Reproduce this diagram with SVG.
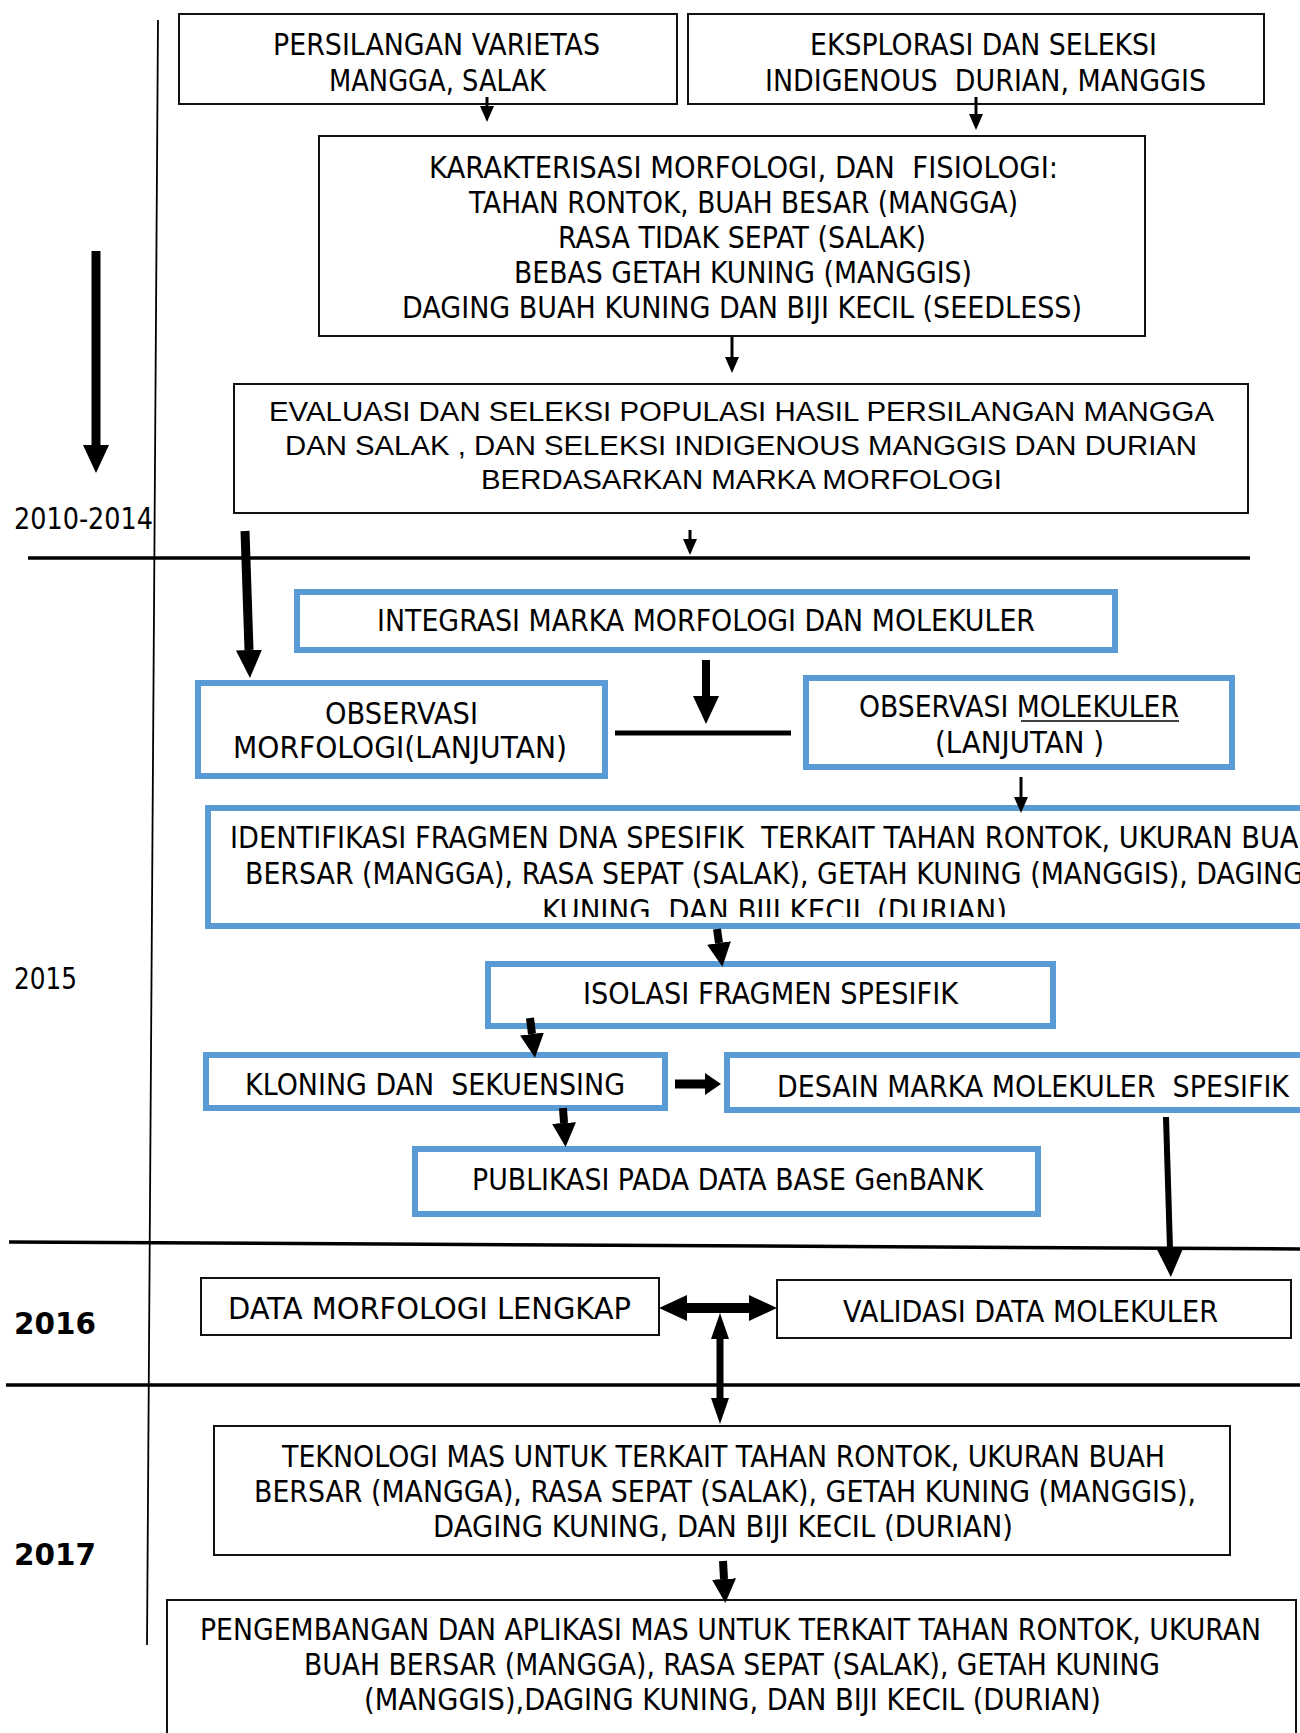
<svg xmlns="http://www.w3.org/2000/svg" width="1300" height="1733" viewBox="0 0 1300 1733">
<style>
.bk{fill:#fff;stroke:#111;stroke-width:2}
.bl{fill:#fff;stroke:#5B9BD5;stroke-width:6}
text{font-family:"DejaVu Sans","Liberation Sans",sans-serif;font-size:30px;fill:#000}
.ar{font-family:"Liberation Sans",Arial,sans-serif;font-size:27px}
.yb{font-size:31px;font-weight:bold}
.ln{stroke:#000;fill:none}
.c{stroke:#000;fill:none}
</style>
<defs>
<marker id="hs" markerUnits="userSpaceOnUse" viewBox="0 -8 16 16" markerWidth="16" markerHeight="16" refX="0" refY="0" orient="auto-start-reverse"><path d="M0,-7 L16,0 L0,7z" fill="#000"/></marker>
<marker id="hm" markerUnits="userSpaceOnUse" viewBox="0 -12 24 24" markerWidth="24" markerHeight="24" refX="0" refY="0" orient="auto-start-reverse"><path d="M0,-12 L24,0 L0,12z" fill="#000"/></marker>
<marker id="hl" markerUnits="userSpaceOnUse" viewBox="0 -13 28 26" markerWidth="28" markerHeight="26" refX="0" refY="0" orient="auto-start-reverse"><path d="M0,-13 L28,0 L0,13z" fill="#000"/></marker>
<marker id="hw" markerUnits="userSpaceOnUse" viewBox="0 -11 16 22" markerWidth="16" markerHeight="22" refX="0" refY="0" orient="auto-start-reverse"><path d="M0,-11 L16,0 L0,11z" fill="#000"/></marker>
<marker id="hn" markerUnits="userSpaceOnUse" viewBox="0 -9 26 18" markerWidth="26" markerHeight="18" refX="0" refY="0" orient="auto-start-reverse"><path d="M0,-9 L26,0 L0,9z" fill="#000"/></marker>
<clipPath id="cid"><rect x="0" y="800" width="1300" height="117"/></clipPath>
</defs>

<g id="timeline">
<line class="ln" x1="158" y1="20" x2="147" y2="1645" stroke-width="1.8"/>
<line class="ln" x1="28" y1="558" x2="1250" y2="558" stroke-width="3.5"/>
<line class="ln" x1="9" y1="1242" x2="1300" y2="1249" stroke-width="3.5"/>
<line class="ln" x1="6" y1="1385" x2="1300" y2="1385" stroke-width="3.5"/>
<text x="14" y="529" textLength="139" lengthAdjust="spacingAndGlyphs">2010-2014</text>
<text x="14" y="989" textLength="63" lengthAdjust="spacingAndGlyphs">2015</text>
<text class="yb" x="14" y="1334" textLength="82" lengthAdjust="spacingAndGlyphs">2016</text>
<text class="yb" x="14" y="1565" textLength="82" lengthAdjust="spacingAndGlyphs">2017</text>
</g>

<g id="n-persilangan">
<rect class="bk" x="179" y="14" width="498" height="90"/>
<text x="273" y="55" textLength="327" lengthAdjust="spacingAndGlyphs">PERSILANGAN VARIETAS</text>
<text x="329" y="91" textLength="217" lengthAdjust="spacingAndGlyphs">MANGGA, SALAK</text>
</g>

<g id="n-eksplorasi">
<rect class="bk" x="688" y="14" width="576" height="90"/>
<text x="810" y="55" textLength="347" lengthAdjust="spacingAndGlyphs">EKSPLORASI DAN SELEKSI</text>
<text x="765" y="91" textLength="441" lengthAdjust="spacingAndGlyphs" xml:space="preserve">INDIGENOUS  DURIAN, MANGGIS</text>
</g>

<g id="n-karakterisasi">
<rect class="bk" x="319" y="136" width="826" height="200"/>
<text x="429" y="178" textLength="629" lengthAdjust="spacingAndGlyphs" xml:space="preserve">KARAKTERISASI MORFOLOGI, DAN  FISIOLOGI:</text>
<text x="469" y="213" textLength="549" lengthAdjust="spacingAndGlyphs">TAHAN RONTOK, BUAH BESAR (MANGGA)</text>
<text x="558" y="248" textLength="368" lengthAdjust="spacingAndGlyphs">RASA TIDAK SEPAT (SALAK)</text>
<text x="514" y="283" textLength="458" lengthAdjust="spacingAndGlyphs">BEBAS GETAH KUNING (MANGGIS)</text>
<text x="402" y="318" textLength="680" lengthAdjust="spacingAndGlyphs">DAGING BUAH KUNING DAN BIJI KECIL (SEEDLESS)</text>
</g>

<g id="n-evaluasi">
<rect class="bk" x="234" y="384" width="1014" height="129"/>
<text class="ar" x="269" y="421" textLength="945" lengthAdjust="spacingAndGlyphs">EVALUASI DAN SELEKSI POPULASI HASIL PERSILANGAN MANGGA</text>
<text class="ar" x="285" y="455" textLength="912" lengthAdjust="spacingAndGlyphs">DAN SALAK , DAN SELEKSI INDIGENOUS MANGGIS DAN DURIAN</text>
<text class="ar" x="481" y="489" textLength="521" lengthAdjust="spacingAndGlyphs">BERDASARKAN MARKA MORFOLOGI</text>
</g>

<g id="n-integrasi">
<rect class="bl" x="297" y="592" width="818" height="58"/>
<text x="377" y="631" textLength="658" lengthAdjust="spacingAndGlyphs">INTEGRASI MARKA MORFOLOGI DAN MOLEKULER</text>
</g>

<g id="n-obs-morfologi">
<rect class="bl" x="198" y="683" width="407" height="93"/>
<text x="325" y="724" textLength="153" lengthAdjust="spacingAndGlyphs">OBSERVASI</text>
<text x="233" y="758" textLength="334" lengthAdjust="spacingAndGlyphs">MORFOLOGI(LANJUTAN)</text>
</g>

<g id="n-obs-molekuler">
<rect class="bl" x="806" y="678" width="426" height="89"/>
<text x="859" y="717" textLength="320" lengthAdjust="spacingAndGlyphs">OBSERVASI MOLEKULER</text>
<line x1="1021" y1="721" x2="1179" y2="721" stroke="#000" stroke-width="1.6"/>
<text x="935" y="753" textLength="169" lengthAdjust="spacingAndGlyphs" xml:space="preserve">(LANJUTAN )</text>
</g>

<g id="n-identifikasi">
<rect class="bl" x="208" y="808" width="1113" height="118"/>
<g clip-path="url(#cid)">
<text x="230" y="848" textLength="1089" lengthAdjust="spacingAndGlyphs" xml:space="preserve">IDENTIFIKASI FRAGMEN DNA SPESIFIK  TERKAIT TAHAN RONTOK, UKURAN BUAH</text>
<text x="245" y="884" textLength="1059" lengthAdjust="spacingAndGlyphs">BERSAR (MANGGA), RASA SEPAT (SALAK), GETAH KUNING (MANGGIS), DAGING</text>
<text x="542" y="921" textLength="465" lengthAdjust="spacingAndGlyphs">KUNING, DAN BIJI KECIL (DURIAN)</text>
</g>
</g>

<g id="n-isolasi">
<rect class="bl" x="488" y="964" width="565" height="62"/>
<text x="583" y="1004" textLength="375" lengthAdjust="spacingAndGlyphs">ISOLASI FRAGMEN SPESIFIK</text>
</g>

<g id="n-kloning">
<rect class="bl" x="206" y="1055" width="459" height="53"/>
<text x="245" y="1095" textLength="380" lengthAdjust="spacingAndGlyphs" xml:space="preserve">KLONING DAN  SEKUENSING</text>
</g>

<g id="n-desain">
<rect class="bl" x="727" y="1055" width="600" height="55"/>
<text x="777" y="1097" textLength="512" lengthAdjust="spacingAndGlyphs" xml:space="preserve">DESAIN MARKA MOLEKULER  SPESIFIK</text>
</g>

<g id="n-publikasi">
<rect class="bl" x="415" y="1149" width="623" height="65"/>
<text x="472" y="1190" textLength="511" lengthAdjust="spacingAndGlyphs">PUBLIKASI PADA DATA BASE GenBANK</text>
</g>

<g id="n-data-morfologi">
<rect class="bk" x="201" y="1278" width="458" height="57"/>
<text x="228" y="1319" textLength="403" lengthAdjust="spacingAndGlyphs">DATA MORFOLOGI LENGKAP</text>
</g>

<g id="n-validasi">
<rect class="bk" x="777" y="1280" width="514" height="58"/>
<text x="843" y="1322" textLength="375" lengthAdjust="spacingAndGlyphs">VALIDASI DATA MOLEKULER</text>
</g>

<g id="n-teknologi">
<rect class="bk" x="214" y="1426" width="1016" height="129"/>
<text x="282" y="1467" textLength="883" lengthAdjust="spacingAndGlyphs">TEKNOLOGI MAS UNTUK TERKAIT TAHAN RONTOK, UKURAN BUAH</text>
<text x="254" y="1502" textLength="942" lengthAdjust="spacingAndGlyphs">BERSAR (MANGGA), RASA SEPAT (SALAK), GETAH KUNING (MANGGIS),</text>
<text x="433" y="1537" textLength="580" lengthAdjust="spacingAndGlyphs">DAGING KUNING, DAN BIJI KECIL (DURIAN)</text>
</g>

<g id="n-pengembangan">
<rect class="bk" x="167" y="1600" width="1129" height="160"/>
<text x="200" y="1640" textLength="1061" lengthAdjust="spacingAndGlyphs">PENGEMBANGAN DAN APLIKASI MAS UNTUK TERKAIT TAHAN RONTOK, UKURAN</text>
<text x="304" y="1675" textLength="856" lengthAdjust="spacingAndGlyphs">BUAH BERSAR (MANGGA), RASA SEPAT (SALAK), GETAH KUNING</text>
<text x="364" y="1710" textLength="737" lengthAdjust="spacingAndGlyphs">(MANGGIS),DAGING KUNING, DAN BIJI KECIL (DURIAN)</text>
</g>

<g id="connectors">
<line class="c" x1="487" y1="97" x2="487" y2="106" stroke-width="3" marker-end="url(#hs)"/>
<line class="c" x1="976" y1="97" x2="976" y2="114" stroke-width="3" marker-end="url(#hs)"/>
<line class="c" x1="732" y1="337" x2="732" y2="357" stroke-width="3" marker-end="url(#hs)"/>
<line class="c" x1="690" y1="530" x2="690" y2="539" stroke-width="3" marker-end="url(#hs)"/>
<line class="c" x1="96" y1="251" x2="96" y2="445" stroke-width="9" marker-end="url(#hl)"/>
<line class="c" x1="245" y1="531" x2="249" y2="650" stroke-width="9" marker-end="url(#hl)"/>
<line class="c" x1="706" y1="660" x2="706" y2="696" stroke-width="8" marker-end="url(#hl)"/>
<line class="c" x1="615" y1="733" x2="791" y2="733" stroke-width="5"/>
<line class="c" x1="1021" y1="777" x2="1021" y2="797" stroke-width="3" marker-end="url(#hs)"/>
<line class="c" x1="717" y1="929" x2="719" y2="943" stroke-width="8" marker-end="url(#hm)"/>
<line class="c" x1="530" y1="1018" x2="532" y2="1034" stroke-width="8" marker-end="url(#hm)"/>
<line class="c" x1="675" y1="1084" x2="705" y2="1084" stroke-width="9" marker-end="url(#hw)"/>
<line class="c" x1="563" y1="1108" x2="564" y2="1123" stroke-width="8" marker-end="url(#hm)"/>
<line class="c" x1="1166" y1="1117" x2="1170" y2="1249" stroke-width="6" marker-end="url(#hl)"/>
<line class="c" x1="687" y1="1308" x2="749" y2="1308" stroke-width="10" marker-start="url(#hl)" marker-end="url(#hl)"/>
<line class="c" x1="720" y1="1339" x2="720" y2="1398" stroke-width="7" marker-start="url(#hn)" marker-end="url(#hn)"/>
<line class="c" x1="723" y1="1561" x2="724" y2="1579" stroke-width="8" marker-end="url(#hm)"/>
</g>
</svg>
